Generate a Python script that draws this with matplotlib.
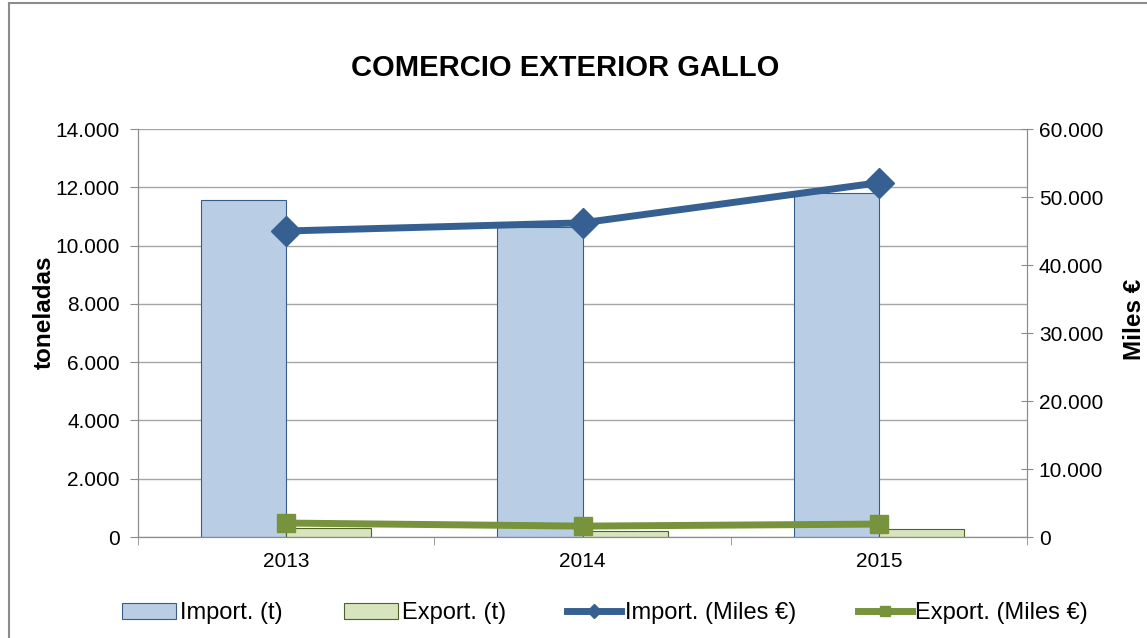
import numpy as np
import matplotlib.pyplot as plt
from matplotlib.lines import Line2D
from matplotlib.ticker import FuncFormatter, MultipleLocator

plt.rcParams["font.family"] = ["Liberation Sans", "DejaVu Sans"]

# Data
years = ["2013", "2014", "2015"]
import_t = [11550, 10650, 11800]
export_t = [300, 200, 275]
import_eur = [45000, 46200, 52100]
export_eur = [2050, 1600, 1900]


def miles(v, pos):
    return f"{int(v):,}".replace(",", ".")


fig = plt.figure(figsize=(11.47, 6.38), dpi=100)
# chart border (only left and top visible in the crop)
fig.lines.append(Line2D([0.0075, 0.0075], [0, 0.996], transform=fig.transFigure,
                        color="#8c8c8c", linewidth=1.5))
fig.lines.append(Line2D([0.0075, 1], [0.996, 0.996], transform=fig.transFigure,
                        color="#8c8c8c", linewidth=1.5))

ax = fig.add_axes([0.1203, 0.1583, 0.7751, 0.6395])
x = np.arange(len(years))
w = 0.287

ax.bar(x - w / 2, import_t, w, color="#B9CDE5", edgecolor="#385D8A", linewidth=0.8,
       label="Import. (t)", zorder=2)
ax.bar(x + w / 2, export_t, w, color="#D7E4BD", edgecolor="#4F6228", linewidth=0.8,
       label="Export. (t)", zorder=2)

ax.set_xlim(-0.5, 2.5)
ax.set_ylim(0, 14000)
ax.yaxis.set_major_locator(MultipleLocator(2000))
ax.yaxis.set_major_formatter(FuncFormatter(miles))
ax.grid(axis="y", color="#a6a6a6", linewidth=1, zorder=0)
ax.set_axisbelow(True)
ax.set_xticks(x)
ax.set_xticklabels(years)
ax.set_xticks(np.arange(-0.5, 3, 1), minor=True)
ax.tick_params(axis="x", which="major", length=0, labelsize=15, pad=11)
ax.tick_params(axis="x", which="minor", length=6, color="#8c8c8c")
ax.tick_params(axis="y", length=6, color="#8c8c8c", labelsize=15, pad=7)
ax.set_ylabel("toneladas", fontsize=17.5, fontweight="bold")
ax.yaxis.set_label_coords(-0.093, 0.552)
ax.spines["top"].set_visible(False)
for s in ["left", "bottom", "right"]:
    ax.spines[s].set_color("#8c8c8c")

ax2 = ax.twinx()
ax2.plot(x, import_eur, color="#376092", linewidth=5, marker="D", markersize=15,
         label="Import. (Miles €)", zorder=3)
ax2.plot(x, export_eur, color="#77933C", linewidth=5, marker="s", markersize=13,
         label="Export. (Miles €)", zorder=3)
ax2.set_ylim(0, 60000)
ax2.yaxis.set_major_locator(MultipleLocator(10000))
ax2.yaxis.set_major_formatter(FuncFormatter(miles))
ax2.tick_params(axis="y", direction="inout", length=9, color="#8c8c8c",
                labelsize=15, pad=4)
ax2.set_ylabel("Miles €", fontsize=17.5, fontweight="bold")
ax2.yaxis.set_label_coords(1.108, 0.534)
ax2.spines["top"].set_visible(False)
for s in ["left", "bottom", "right"]:
    ax2.spines[s].set_color("#8c8c8c")

fig.text(0.4926, 0.8934, "COMERCIO EXTERIOR GALLO", ha="center", va="center",
         fontsize=21, fontweight="bold")

h1, l1 = ax.get_legend_handles_labels()
h2, l2 = ax2.get_legend_handles_labels()
fig.legend(h1 + h2, l1 + l2, loc="center", bbox_to_anchor=(0.5275, 0.039), ncol=4,
           frameon=False, fontsize=17, handlelength=2.3, handletextpad=0.15,
           columnspacing=2.6, markerscale=0.5, borderpad=0, borderaxespad=0)

fig.savefig("out.png", dpi=100)
